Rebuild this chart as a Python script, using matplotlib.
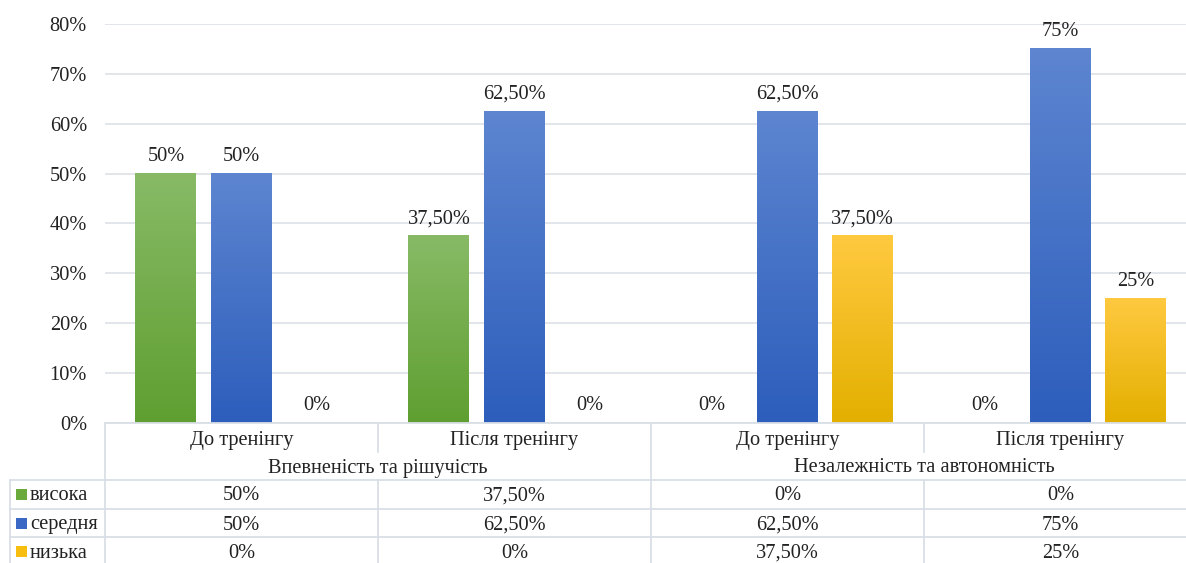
import numpy as np
import matplotlib
matplotlib.use("Agg")
import matplotlib.pyplot as plt
from matplotlib import transforms
from matplotlib.colors import LinearSegmentedColormap
from matplotlib.lines import Line2D

# data
groups = ["Впевненість та рішучість", "Незалежність та автономність"]
stages = ["До тренінгу", "Після тренінгу", "До тренінгу", "Після тренінгу"]
series_names = ["висока", "середня", "низька"]
vysoka = [50, 37.5, 0, 0]
serednia = [50, 62.5, 62.5, 75]
nyzka = [0, 0, 37.5, 25]
yticks = [0, 10, 20, 30, 40, 50, 60, 70, 80]

values = [vysoka, serednia, nyzka]
# (top colour, bottom colour) of each gradient bar
grads = [("#88ba66", "#5f9f31"), ("#5d85d0", "#2d5ebc"), ("#ffc940", "#e3b000")]
legend_cols = ["#6aaa3a", "#3a68c4", "#f7be10"]

W, H = 1186, 563
FS = 14.7
plt.rcParams['font.family'] = ['Liberation Serif', 'DejaVu Serif']
fig = plt.figure(figsize=(W / 100, H / 100), dpi=100)

ax_l, ax_r = 105, 105 + 4 * 273
ax_t, ax_b = 24, 423
ax = fig.add_axes([ax_l / W, 1 - ax_b / H, (ax_r - ax_l) / W, (ax_b - ax_t) / H])

grid_col = "#dde1e8"
line_col = "#dadee6"
txt_col = "#222222"

def fmt(v):
    if float(v).is_integer():
        return "%d%%" % v
    return ("%.2f%%" % v).replace(".", ",")

offsets = [-0.277, 0.0, 0.275]
bw = 0.223
for s, vals in enumerate(values):
    cmap = LinearSegmentedColormap.from_list("g%d" % s, [grads[s][1], grads[s][0]])
    for i, v in enumerate(vals):
        xc = i + 0.5 + offsets[s]
        if v > 0:
            grad = np.linspace(0, 1, 100).reshape(-1, 1)
            ax.imshow(grad, extent=[xc - bw / 2, xc + bw / 2, 0, v], origin="lower",
                      aspect="auto", cmap=cmap, zorder=3, interpolation="bicubic")
        ax.annotate(fmt(v), (xc, v), xytext=(0, 5.5), textcoords="offset points",
                    ha="center", va="bottom", fontsize=FS, color=txt_col, zorder=4)

ax.set_xlim(0, 4)
ax.set_ylim(0, 80)
ax.set_yticks(yticks)
ax.set_yticklabels(["%d%%" % t for t in yticks], fontsize=FS, color=txt_col)
ax.set_xticks([])
ax.tick_params(axis="y", length=0, pad=13)
ax.grid(axis="y", color=grid_col, lw=1.2, zorder=0)
for sp in ax.spines.values():
    sp.set_visible(False)

# data table below the plot
def fy(py):
    return 1 - py / H

def fx(px):
    return px / W

tr = transforms.blended_transform_factory(ax.transData, fig.transFigure)

def hline(x0, x1, py):
    fig.add_artist(Line2D([fx(x0), fx(x1)], [fy(py), fy(py)], color=line_col, lw=1.3))

def vline_data(xd, py0, py1):
    fig.add_artist(Line2D([xd, xd], [fy(py0), fy(py1)], color=line_col, lw=1.3, transform=tr))

hline(ax_l, W, ax_b)
for py in [480, 509, 537]:
    hline(10, W, py)
fig.add_artist(Line2D([fx(10), fx(10)], [fy(480), fy(H)], color=line_col, lw=1.3))
vline_data(0, ax_b, H)
vline_data(1, ax_b, 452)
vline_data(2, ax_b, H)
vline_data(3, ax_b, 452)
vline_data(1, 480, H)
vline_data(3, 480, H)

for i, st in enumerate(stages):
    fig.text(i + 0.5, fy(440), st, transform=tr, ha="center", va="center",
             fontsize=FS, color=txt_col)
for g, gn in enumerate(groups):
    fig.text(2 * g + 1, fy(468), gn, transform=tr, ha="center", va="center",
             fontsize=FS, color=txt_col)

row_y = [496, 525, 553]
for s, name in enumerate(series_names):
    fig.add_artist(plt.Rectangle((fx(16), fy(row_y[s] + 4)), 11 / W, 11 / H,
                                 transform=fig.transFigure, color=legend_cols[s], lw=0))
    fig.text(fx(30), fy(row_y[s]), name, ha="left", va="center", fontsize=FS, color=txt_col)
    for i, v in enumerate(values[s]):
        fig.text(i + 0.5, fy(row_y[s]), fmt(v), transform=tr, ha="center", va="center",
                 fontsize=FS, color=txt_col)

fig.savefig("out.png", dpi=100, facecolor="white")
